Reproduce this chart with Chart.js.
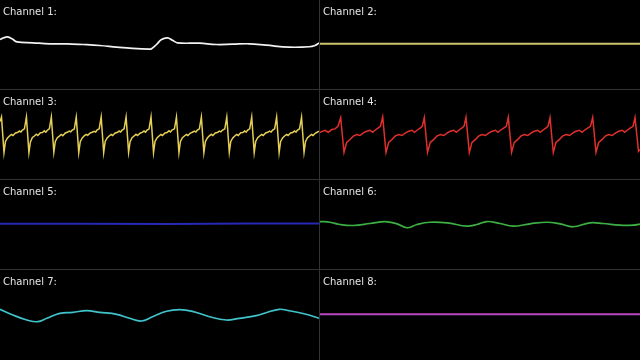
<!DOCTYPE html>
<html>
<head>
<meta charset="utf-8">
<script src="https://cdn.jsdelivr.net/npm/chart.js@4/dist/chart.umd.min.js"></script>
<style>
  html, body { margin: 0; padding: 0; background: #000; }
  .grid {
    width: 640px; height: 360px;
    display: grid;
    grid-template-columns: 319px 320px;
    grid-template-rows: 89px 89px 89px 90px;
    gap: 1px;
    background: #333;
  }
  .cell { position: relative; background: #000; overflow: hidden; }
  .cell canvas { display: block; }
  .label {
    position: absolute; left: 3px; top: 6px;
    font: 10px/12px "DejaVu Sans", sans-serif;
    color: #e4e4e4;
    pointer-events: none;
  }
</style>
</head>
<body>
<div class="grid" id="grid"></div>
<script>
(function() {
'use strict';

// time runs 0..320 across a panel, values are offsets from the panel's baseline
const labels = ['Channel 1:', 'Channel 2:', 'Channel 3:', 'Channel 4:',
                'Channel 5:', 'Channel 6:', 'Channel 7:', 'Channel 8:'];
const colors = ['#f2f2f2', '#cbc46a', '#e6cf55', '#e0302c',
                '#2828b8', '#3cb043', '#40c4cc', '#b848c0'];

const ch1 = [[0, 5], [7, 7.7], [12, 5.7], [17, 2.7], [33, 1.7], [50, 0.7], [67, 0.7], [83, 0],
  [100, -1], [117, -2.7], [133, -4], [150, -4.7], [152, -4.3], [157, 0], [162, 5], [168, 6.7],
  [173, 4.3], [178, 1.7], [200, 1.3], [217, 0], [233, 0.3], [250, 0.7], [267, -0.7], [290, -2.7],
  [310, -2.3], [316, -1], [320, 1.5]];

const ch2 = [[0, 0.7], [320, 0.7]];

const ch3 = [[0, 13], [1.5, 17.7], [4, -18.3], [5.5, -7], [7.5, -3.5], [9.5, -1.5], [11.5, 0], [13, -1], [15.5, 1.5], [17.5, 2], [19.5, 3.5], [21, 2.5], [22.5, 4.5], [24.5, 5.7],
  [26.5, 17.7], [29, -18.3], [30.5, -7.5], [32.5, -3], [34.5, -1.5], [36.5, 0.3], [38, -1], [40.5, 1.7], [42.5, 2], [44.5, 3.7], [46, 2.3], [47.5, 4.3], [49.5, 5.7],
  [51.5, 17.7], [54, -18], [55.5, -7], [57.5, -3.3], [59.5, -1.7], [61.5, 0], [63, -1.2], [65.5, 1.5], [67.5, 2.2], [69.5, 3.5], [71, 2.7], [72.5, 4.5], [74.5, 5.5],
  [76.5, 17.5], [79, -18.3], [80.5, -7.2], [82.5, -3.5], [84.5, -1.3], [86.5, 0.2], [88, -0.8], [90.5, 1.5], [92.5, 2.3], [94.5, 3.3], [96, 2.5], [97.5, 4.7], [99.5, 5.7],
  [101.5, 17.7], [104, -18.3], [105.5, -7], [107.5, -3.5], [109.5, -1.5], [111.5, 0], [113, -1], [115.5, 1.5], [117.5, 2], [119.5, 3.5], [121, 2.5], [122.5, 4.5], [124.5, 5.7],
  [126.5, 17.7], [129, -18], [130.5, -7.3], [132.5, -3.2], [134.5, -1.5], [136.5, 0.2], [138, -1], [140.5, 1.3], [142.5, 2.2], [144.5, 3.5], [146, 2.3], [147.5, 4.5], [149.5, 5.5],
  [151.5, 17.7], [154, -18.3], [155.5, -7], [157.5, -3.5], [159.5, -1.5], [161.5, 0], [163, -1], [165.5, 1.5], [167.5, 2], [169.5, 3.7], [171, 2.5], [172.5, 4.5], [175, 5.7],
  [177, 17.7], [179.5, -18.3], [181, -7], [183, -3.3], [185, -1.5], [187, 0], [188.5, -1], [191, 1.5], [193, 2.3], [195, 3.5], [196.5, 2.5], [198, 4.5], [200, 5.7],
  [202, 17.7], [204.5, -18.3], [206, -7.2], [208, -3.5], [210, -1.3], [212, 0.2], [213.5, -1], [216, 1.5], [218, 2], [220, 3.5], [221.5, 2.7], [223, 4.3], [225.5, 5.7],
  [227.5, 17.7], [230, -18], [231.5, -7], [233.5, -3.5], [235.5, -1.5], [237.5, 0], [239, -1], [241.5, 1.7], [243.5, 2], [245.5, 3.5], [247, 2.5], [248.5, 4.5], [250.5, 5.7],
  [252.5, 17.7], [255, -18.3], [256.5, -7], [258.5, -3.3], [260.5, -1.5], [262.5, 0], [264, -1], [266.5, 1.5], [268.5, 2.2], [270.5, 3.5], [272, 2.5], [273.5, 4.5], [275.5, 5.7],
  [277.5, 17.7], [280, -18.3], [281.5, -7], [283.5, -3.5], [285.5, -1.5], [287.5, 0], [289, -1], [291.5, 1.5], [293.5, 2], [295.5, 3.5], [297, 2.5], [298.5, 4.5], [300.5, 5.7],
  [302.5, 17.5], [305, -18], [306.5, -7], [308.5, -3.3], [310.5, -1.5], [312.5, 0], [314, -1], [316.5, 1.5], [318.5, 2.5], [320, 3.5]];

const ch4 = [[0, 2.3], [5, 4.3], [8.3, 2.3], [11.7, 5], [15, 5.7], [18, 8.3],
  [20.7, 17], [24, -18], [26.7, -8], [30, -5], [33.3, -1.7], [36.7, 0], [40, -1], [43.3, 1.7], [46.7, 3.3], [50, 4.3], [52.7, 2.3], [55, 4.3], [58.3, 6.7], [60.5, 8.3],
  [62.7, 17.7], [66, -18.3], [68.7, -8], [72, -5], [75, -1.7], [78.7, 0], [82, -1], [85.5, 1.7], [88.7, 3.3], [92, 4.3], [94.5, 2.3], [97, 4.3], [100.5, 6.7], [102.3, 8.3],
  [104.3, 17], [107.5, -18], [110.3, -8], [113.8, -5], [116.8, -1.7], [120.3, 0], [123.8, -1], [127.3, 1.7], [130.3, 3.3], [133.8, 4.3], [136.3, 2.3], [138.8, 4.3], [142, 6.7], [144, 8.3],
  [146, 17.3], [149.3, -18.3], [152, -8], [155.5, -5], [158.5, -1.7], [162, 0], [165.5, -1], [169, 1.7], [172, 3.3], [175.5, 4.3], [178, 2.3], [180.5, 4.3], [184, 6.7], [186.3, 8.3],
  [188.3, 17.3], [191.6, -18], [194.3, -8], [197.8, -5], [200.8, -1.7], [204.3, 0], [207.8, -1], [211.3, 1.7], [214.3, 3.3], [217.8, 4.3], [220.3, 2.3], [222.8, 4.3], [226, 6.7], [228, 8.3],
  [230, 17], [233.3, -18.3], [236, -8], [239.5, -5], [242.5, -1.7], [246, 0], [249.5, -1], [253, 1.7], [256, 3.3], [259.5, 4.3], [262, 2.3], [264.5, 4.3], [268, 6.7], [270.5, 8.3],
  [272.7, 17.3], [276, -18], [278.7, -8], [282.2, -5], [285.2, -1.7], [288.7, 0], [292.2, -1], [295.7, 1.7], [298.7, 3.3], [302.2, 4.3], [304.7, 2.3], [307.2, 4.3], [310.5, 6.7], [313, 8.3],
  [315, 17.3], [318.5, -17], [320, -15]];

const ch5 = [[0, 0.7], [80, 0.7], [170, 0.5], [250, 1], [320, 1]];

const ch6 = [[0, 3], [10, 2.3], [20, 0], [33, -1], [50, 1], [65, 3], [77, 0.7], [87, -3.3],
  [97, 0], [110, 2.3], [127, 1.7], [147, -1.7], [157, 0], [167, 3], [180, 1], [193, -1.7],
  [210, 0.7], [227, 2.3], [240, 0.7], [253, -2.3], [270, 1.7], [283, 1], [300, -0.7],
  [313, -0.7], [320, 0.3]];

const ch7 = [[0, 5.7], [13, 0], [27, -5], [38, -6.7], [47, -3.3], [60, 1.7], [73, 2.7], [87, 4.3],
  [100, 2.7], [117, 0.7], [130, -3.3], [142, -6], [153, -1.7], [167, 3.7], [180, 5.3], [193, 3.7],
  [210, -1.7], [227, -5], [240, -3.3], [257, -0.7], [267, 2.3], [280, 5.7], [290, 4.3],
  [307, 0.7], [320, -3.3]];

const ch8 = [[0, 0.7], [320, 0.7]];

const channels = [ch1, ch2, ch3, ch4, ch5, ch6, ch7, ch8];
const smooth = [0.4, 0, 0, 0, 0, 0.4, 0.4, 0];
const widths = [1.7, 2, 1.5, 1.5, 2, 1.7, 1.7, 2];

const grid = document.getElementById('grid');

channels.forEach((pts, i) => {
  const cell = document.createElement('div');
  cell.className = 'cell';
  const w = (i % 2 === 0) ? 319 : 320;
  const h = (i >= 6) ? 90 : 89;
  const canvas = document.createElement('canvas');
  canvas.width = w;
  canvas.height = h;
  cell.appendChild(canvas);
  const lbl = document.createElement('div');
  lbl.className = 'label';
  lbl.textContent = labels[i];
  cell.appendChild(lbl);
  grid.appendChild(cell);

  new Chart(canvas, {
    type: 'line',
    data: {
      datasets: [{
        data: pts.map(p => ({ x: p[0], y: p[1] })),
        borderColor: colors[i],
        borderWidth: widths[i],
        pointRadius: 0,
        tension: smooth[i],
        fill: false,
      }]
    },
    options: {
      responsive: false,
      animation: false,
      layout: { padding: 0 },
      plugins: { legend: { display: false }, tooltip: { enabled: false } },
      scales: {
        x: { type: 'linear', min: 0, max: 320, display: false },
        y: { min: -45, max: 45, display: false }
      }
    }
  });
});

})();
</script>
</body>
</html>
